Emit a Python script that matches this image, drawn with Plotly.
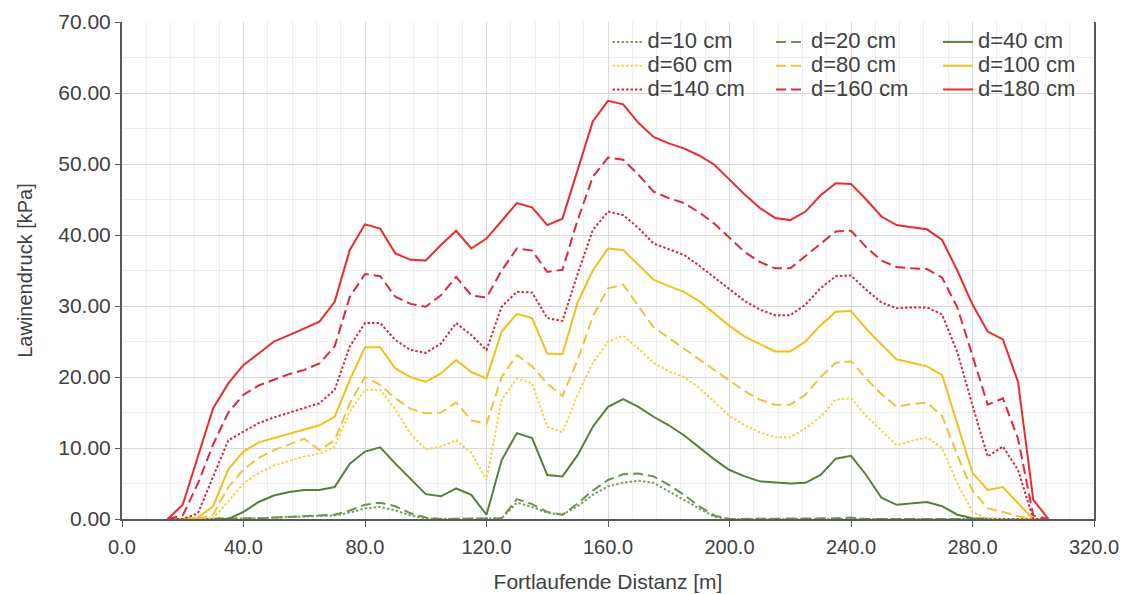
import plotly.graph_objects as go

distance = [15, 20, 25, 30, 35, 40, 45, 50, 55, 60, 65, 70, 75, 80, 85, 90, 95, 100,
            105, 110, 115, 120, 125, 130, 135, 140, 145, 150, 155, 160, 165, 170, 175,
            180, 185, 190, 195, 200, 205, 210, 215, 220, 225, 230, 235, 240, 245, 250,
            255, 260, 265, 270, 275, 280, 285, 290, 295, 300, 305]

d10 = [0, 0, 0, 0, 0, 0, 0.1, 0.2, 0.3, 0.4, 0.5, 0.5, 0.9, 1.5, 1.7, 1.2, 0.5, 0.1,
       0, 0, 0, 0, 0.1, 2.3, 1.7, 0.9, 0.6, 1.8, 3.4, 4.6, 5.1, 5.4, 5.1,
       3.9, 2.7, 1.4, 0.3, 0, 0, 0, 0, 0, 0, 0, 0, 0.1, 0, 0,
       0, 0, 0, 0, 0, 0, 0, 0, 0, 0, 0]
d20 = [0, 0, 0, 0, 0, 0, 0.1, 0.2, 0.3, 0.5, 0.6, 0.6, 1.2, 2.0, 2.3, 1.8, 0.8, 0.2,
       0, 0, 0, 0, 0.1, 2.8, 2.1, 1.0, 0.6, 2.2, 4.0, 5.5, 6.3, 6.4, 6.0,
       4.8, 3.4, 1.8, 0.5, 0, 0, 0, 0, 0, 0, 0, 0.1, 0.2, 0, 0,
       0, 0, 0, 0, 0, 0, 0, 0, 0, 0, 0]
d40 = [0, 0, 0, 0, 0, 1.0, 2.4, 3.3, 3.8, 4.1, 4.1, 4.5, 7.8, 9.5, 10.1, 7.8, 5.6, 3.5,
       3.2, 4.3, 3.4, 0.6, 8.3, 12.1, 11.4, 6.2, 6.0, 9.0, 13.0, 15.8, 16.9, 15.8, 14.4,
       13.2, 11.8, 10.1, 8.4, 6.9, 6.0, 5.3, 5.1, 5.0, 5.1, 6.2, 8.5, 8.9, 6.2, 3.0,
       2.0, 2.2, 2.4, 1.8, 0.6, 0.1, 0, 0, 0, 0, 0]
d60 = [0, 0, 0, 0.1, 2.5, 5.0, 6.5, 7.5, 8.2, 8.8, 9.2, 10.2, 15.1, 18.2, 18.2, 15.4, 12.0, 9.8,
       10.2, 11.1, 9.3, 5.5, 16.8, 19.8, 19.1, 13.0, 12.2, 17.5, 22.0, 25.0, 25.8, 24.0, 22.0,
       20.8, 20.0, 18.5, 16.5, 14.5, 13.2, 12.2, 11.5, 11.5, 12.8, 14.4, 16.8, 17.0, 14.5, 12.4,
       10.4, 11.0, 11.5, 10.0, 5.0, 1.0, 0, 0, 0, 0, 0]
d80 = [0, 0, 0, 0.6, 4.5, 7.0, 8.6, 9.7, 10.5, 11.3, 9.7, 11.1, 16.3, 20.0, 18.9, 17.0, 15.5, 14.9,
       15.0, 16.4, 13.9, 13.4, 20.0, 23.1, 21.5, 19.1, 17.3, 22.4, 28.5, 32.5, 33.0, 30.0, 27.0,
       25.5, 24.0, 22.5, 21.0, 19.5, 18.0, 16.8, 16.1, 16.1, 17.5, 20.0, 22.0, 22.2, 19.8, 17.6,
       15.8, 16.2, 16.4, 14.5, 9.0, 4.0, 1.5, 1.0, 0.4, 0, 0]
d100 = [0, 0, 0.2, 1.8, 7.0, 9.5, 10.8, 11.4, 12.0, 12.6, 13.2, 14.4, 19.6, 24.2, 24.2, 21.2, 20.0, 19.3,
        20.5, 22.4, 20.7, 19.8, 26.4, 28.9, 28.3, 23.3, 23.2, 30.5, 35.0, 38.1, 37.9, 35.8, 33.7,
        32.8, 32.0, 30.7, 29.0, 27.2, 25.7, 24.6, 23.6, 23.6, 25.0, 27.3, 29.2, 29.3, 26.8, 24.6,
        22.5, 22.0, 21.5, 20.3, 13.5, 6.5, 4.1, 4.5, 2.2, 0, 0]
d140 = [0, 0, 0.8, 6.0, 11.1, 12.3, 13.5, 14.3, 15.0, 15.6, 16.3, 18.2, 24.3, 27.6, 27.6, 25.2, 23.8, 23.4,
        24.7, 27.6, 25.9, 23.8, 29.9, 32.0, 31.9, 28.3, 27.9, 34.5, 40.7, 43.3, 42.8, 41.0, 38.8,
        38.0, 37.2, 35.7, 34.0, 32.4, 30.7, 29.5, 28.7, 28.7, 30.2, 32.5, 34.2, 34.3, 32.3, 30.5,
        29.7, 29.8, 29.8, 28.8, 23.5, 16.0, 8.8, 10.2, 6.9, 0, 0]
d160 = [0, 0.5, 5.0, 10.5, 15.0, 17.5, 18.8, 19.6, 20.4, 21.0, 21.9, 24.3, 31.3, 34.5, 34.2, 31.3, 30.3, 29.9,
        31.5, 34.1, 31.5, 31.2, 35.0, 38.1, 37.8, 34.8, 35.1, 42.1, 48.2, 50.9, 50.6, 48.5, 46.1,
        45.2, 44.5, 43.2, 41.6, 39.6, 37.6, 36.2, 35.3, 35.3, 37.0, 38.8, 40.5, 40.6, 38.3, 36.4,
        35.5, 35.3, 35.2, 34.0, 29.8, 23.0, 16.1, 17.0, 11.3, 0.5, 0]
d180 = [0, 2.0, 8.8, 15.6, 19.1, 21.7, 23.3, 25.0, 25.9, 26.8, 27.8, 30.6, 37.9, 41.5, 40.9, 37.4, 36.5, 36.4,
        38.6, 40.6, 38.1, 39.5, 42.0, 44.5, 43.9, 41.4, 42.3, 49.0, 56.0, 58.9, 58.4, 55.8, 53.8,
        52.9, 52.2, 51.2, 49.9, 47.8, 45.7, 43.8, 42.4, 42.1, 43.3, 45.6, 47.3, 47.2, 45.0, 42.6,
        41.4, 41.1, 40.8, 39.3, 35.0, 30.2, 26.4, 25.3, 19.3, 2.7, 0]

labels = ["d=10 cm", "d=20 cm", "d=40 cm", "d=60 cm", "d=80 cm", "d=100 cm",
          "d=140 cm", "d=160 cm", "d=180 cm"]
series = [d10, d20, d40, d60, d80, d100, d140, d160, d180]
colors = ["#7f9c63", "#6f8f55", "#5a7d3c", "#f2d448", "#eac53a", "#efc11a",
          "#d42a40", "#dc2a3c", "#ec2a2e"]
DOT = "2.5px,2px"
DASH = "10px,5px"
dashes = [DOT, DASH, "solid", DOT, DASH, "solid", DOT, DASH, "solid"]
legend_ids = ["legend", "legend2", "legend3"] * 3

fig = go.Figure()
for name, ys, col, dsh, lg in zip(labels, series, colors, dashes, legend_ids):
    fig.add_trace(go.Scatter(
        x=distance, y=ys, mode="lines",
        name='<span style="font-size:22px">' + name + '</span>',
        line=dict(color=col, width=2, dash=dsh),
        legend=lg,
    ))

axis_col = "#595959"
text_col = "#404040"
regular = "Liberation Sans, Arial, sans-serif"

leg_common = dict(orientation="v", yanchor="top", xanchor="left", y=0.994,
                  bgcolor="rgba(0,0,0,0)", font=dict(family=regular, size=16, color=text_col),
                  tracegroupgap=0, itemclick=False)

# the page body adds an 8 px offset, so margins are compensated for it
fig.update_layout(
    width=1129, height=594,
    margin=dict(l=114, r=43, t=14, b=83, autoexpand=False),
    plot_bgcolor="white", paper_bgcolor="white",
    font=dict(family=regular, color=text_col),
    legend=dict(x=0.4995, **leg_common),
    legend2=dict(x=0.6677, **leg_common),
    legend3=dict(x=0.8395, **leg_common),
    xaxis=dict(
        range=[0, 320], tick0=0, dtick=40, tickformat=".1f", automargin=False,
        showgrid=True, gridcolor="#d9d9d9", gridwidth=1,
        minor=dict(dtick=8, showgrid=True, gridcolor="#eeeeee", gridwidth=1),
        showline=True, linecolor=axis_col, linewidth=2, zeroline=False,
        ticks="outside", ticklen=6, tickcolor=axis_col, tickwidth=1,
        ticklabelstandoff=3,
        tickfont=dict(family=regular, size=20, color=text_col),
        title=dict(text="Fortlaufende Distanz [m]", standoff=17,
                   font=dict(family=regular, size=21, color=text_col)),
    ),
    yaxis=dict(
        range=[0, 70], tick0=0, dtick=10, tickformat=".2f", automargin=False,
        showgrid=True, gridcolor="#d9d9d9", gridwidth=1,
        minor=dict(dtick=5, showgrid=True, gridcolor="#eeeeee", gridwidth=1),
        showline=True, mirror=True, linecolor=axis_col, linewidth=2, zeroline=False,
        ticks="outside", ticklen=5, tickcolor=axis_col, tickwidth=1,
        tickfont=dict(family=regular, size=21, color=text_col),
        title=dict(text="Lawinendruck [kPa]", standoff=20,
                   font=dict(family=regular, size=20, color=text_col)),
    ),
)

fig.write_html("out.html")
